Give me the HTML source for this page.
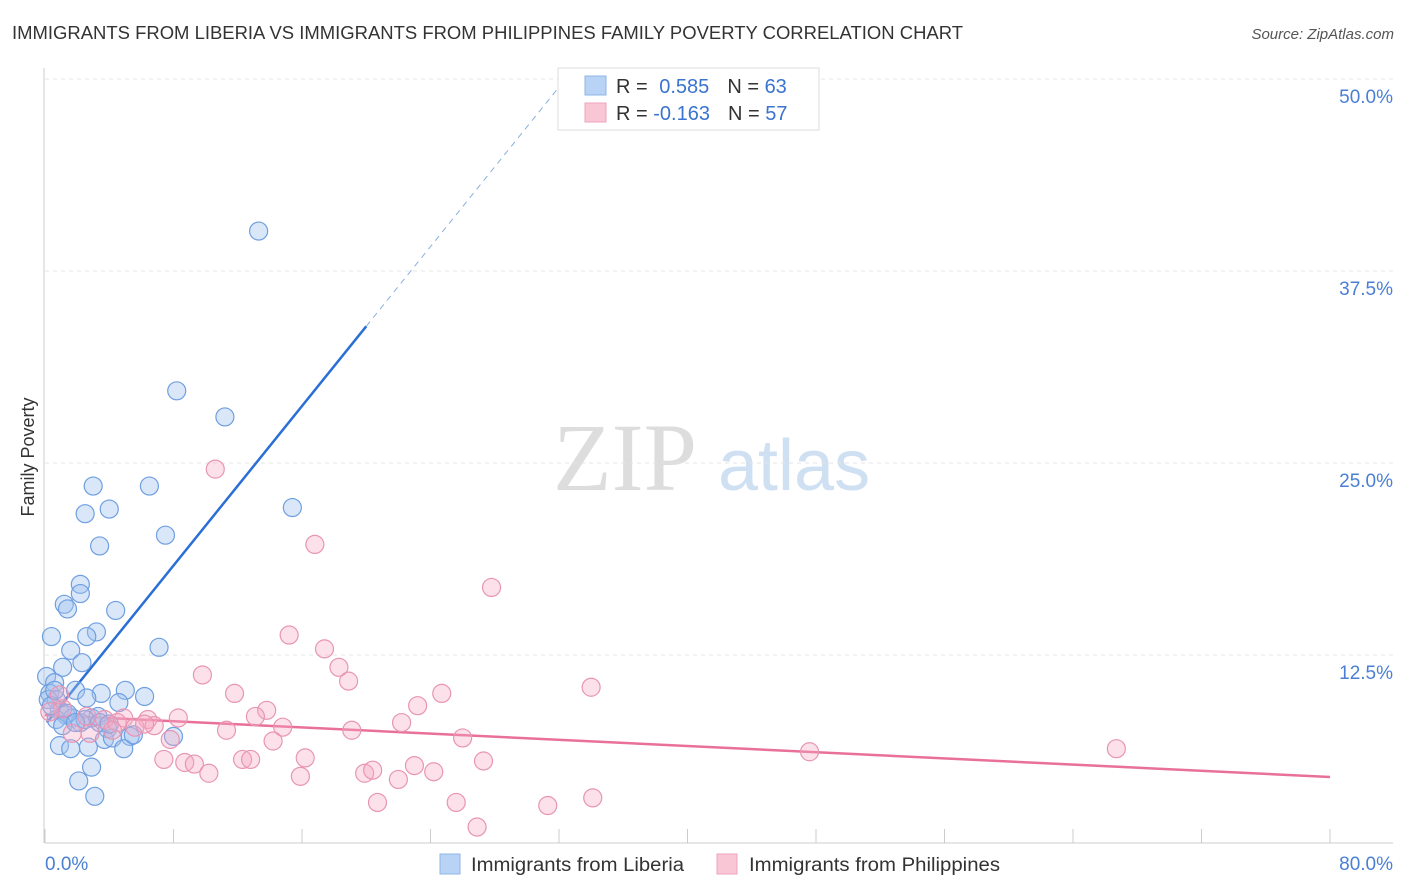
<!DOCTYPE html>
<html><head><meta charset="utf-8"><style>
body{margin:0;background:#fff;font-family:"Liberation Sans",sans-serif;}
svg{display:block}
</style></head><body>
<svg id="chart" width="1406" height="892">
<text x="12" y="39" font-size="18" fill="#333" textLength="951" lengthAdjust="spacingAndGlyphs">IMMIGRANTS FROM LIBERIA VS IMMIGRANTS FROM PHILIPPINES FAMILY POVERTY CORRELATION CHART</text>
<text x="1394" y="39" font-size="15" fill="#555" font-style="italic" text-anchor="end">Source: ZipAtlas.com</text>
<g>
<text x="553" y="490" font-size="96" fill="#ddd" font-family="Liberation Serif,serif">ZIP</text>
<text x="718" y="490" font-size="72" fill="#cfe0f3">atlas</text>
</g>
<g id="grid"></g>
<line x1="44" y1="68" x2="44" y2="843" stroke="#ccc"/>
<line x1="45" y1="843" x2="1393" y2="843" stroke="#ccc"/>
<text transform="translate(34,457) rotate(-90)" font-size="18" fill="#333" text-anchor="middle">Family Poverty</text>
<text x="45" y="870" font-size="19" fill="#4a7fd4">0.0%</text>
<text x="1393" y="870" font-size="19" fill="#4a7fd4" text-anchor="end">80.0%</text>
<g id="lines"></g>
<g id="points"></g>
<g>
<rect x="558" y="68" width="261" height="62" fill="#fff" stroke="#ddd"/>
<rect x="585" y="76" width="21" height="19" fill="#b8d3f5" stroke="#8fb5e8"/>
<rect x="585" y="103" width="21" height="19" fill="#f9c6d5" stroke="#eea4bd"/>
<text x="616" y="93" font-size="20" fill="#333">R = <tspan fill="#3a74d0" dx="6">0.585</tspan><tspan dx="18">N = </tspan><tspan fill="#3a74d0">63</tspan></text>
<text x="616" y="120" font-size="20" fill="#333">R = <tspan fill="#3a74d0">-0.163</tspan><tspan dx="18">N = </tspan><tspan fill="#3a74d0">57</tspan></text>
</g>
<g>
<rect x="440" y="854" width="20" height="20" fill="#b8d3f5" stroke="#8fb5e8"/>
<text x="471" y="871" font-size="19" fill="#333" textLength="213" lengthAdjust="spacingAndGlyphs">Immigrants from Liberia</text>
<rect x="717" y="854" width="20" height="20" fill="#f9c6d5" stroke="#eea4bd"/>
<text x="749" y="871" font-size="19" fill="#333" textLength="251" lengthAdjust="spacingAndGlyphs">Immigrants from Philippines</text>
</g>
</svg>
<script>
const yTicks=[12.5,25,37.5,50];
const yTickLabels=["12.5%","25.0%","37.5%","50.0%"];
const xTicks=[0,8,16,24,32,40,48,56,64,72,80];
const liberiaX=[13.3,8.2,11.2,3.0,6.5,2.5,4.0,15.4,7.5,3.4,2.2,2.2,1.2,1.4,4.4,0.4,3.2,2.6,1.6,7.1,2.3,1.1,0.1,0.6,0.3,1.9,5.0,6.2,3.5,2.6,4.6,0.7,0.9,1.3,1.7,2.9,3.3,2.2,3.9,0.7,8.0,5.3,3.7,4.2,0.9,2.7,1.6,4.9,2.9,2.1,3.1,0.2,0.4,1.4,2.5,3.4,5.5,1.1,1.9,0.6,4.0];
const liberiaY=[40.1,29.7,28.0,23.5,23.5,21.7,22.0,22.1,20.3,19.6,17.1,16.5,15.8,15.5,15.4,13.7,14.0,13.7,12.8,13.0,12.0,11.7,11.1,10.7,10.0,10.2,10.2,9.8,10.0,9.7,9.4,9.6,8.9,8.6,8.4,8.4,8.5,8.1,7.7,8.3,7.2,7.2,7.0,7.1,6.6,6.5,6.4,6.4,5.2,4.3,3.3,9.6,9.2,8.7,8.3,8.1,7.3,7.9,8.1,10.2,8.0];
const philX=[10.6,16.8,27.8,15.2,17.4,18.3,18.9,9.8,11.8,24.7,34.0,13.8,23.2,22.2,19.1,26.0,14.8,13.1,8.3,6.4,4.9,3.7,5.6,6.8,2.6,1.1,1.7,11.3,14.2,16.2,7.4,8.7,9.3,12.3,12.8,10.2,15.9,19.9,20.4,23.0,24.2,27.3,22.0,20.7,25.6,31.3,34.1,26.9,47.6,66.7,7.8,4.5,0.9,2.8,0.3,4.2,6.2];
const philY=[24.6,19.7,16.9,13.8,12.9,11.7,10.8,11.2,10.0,10.0,10.4,8.9,9.2,8.1,7.6,7.1,7.8,8.5,8.4,8.3,8.4,8.3,7.8,7.9,8.5,9.0,7.4,7.6,6.9,5.8,5.7,5.5,5.4,5.7,5.7,4.8,4.6,4.8,5.0,5.3,4.9,5.6,4.4,2.9,2.9,2.7,3.2,1.3,6.2,6.4,7.0,8.1,9.9,7.4,8.8,7.6,8.0];
const liberiaTrend=[0.12,8.1,20.0,33.9];
const philTrend=[0,8.59,80,4.56];
const NS="http://www.w3.org/2000/svg";
const sx=v=>45+v/80*1285, sy=v=>847-v/50*768;
function mk(tag,attrs,parent){const e=document.createElementNS(NS,tag);for(const k in attrs)e.setAttribute(k,attrs[k]);parent.appendChild(e);return e;}
const grid=document.getElementById('grid');
yTicks.forEach((t,i)=>{
 const l=mk('line',{x1:45,x2:1393,y1:sy(t),y2:sy(t),stroke:'#e4e4e4','stroke-dasharray':'4,4'},grid);
 
 
 const tx=mk('text',{x:1393,y:sy(t)+24,'font-size':19,fill:'#4a7fd4','text-anchor':'end'},grid);
 tx.textContent=yTickLabels[i];
 
 
});
xTicks.forEach(t=>{
 const l=mk('line',{x1:sx(t),x2:sx(t),y1:829,y2:843,stroke:'#ccc'},grid);
 
 
});
const pts=document.getElementById('points');
liberiaX.forEach((x,i)=>{
 const c=mk('circle',{cx:sx(x),cy:sy(liberiaY[i]),r:9,fill:'rgba(160,196,240,0.4)',stroke:'#6f9fe0','stroke-width':1.2},pts);
 
 
});
philX.forEach((x,i)=>{
 const c=mk('circle',{cx:sx(x),cy:sy(philY[i]),r:9,fill:'rgba(245,170,195,0.35)',stroke:'#e895b3','stroke-width':1.2},pts);
 
 
});
const lines=document.getElementById('lines');
const slope=(liberiaTrend[3]-liberiaTrend[1])/(liberiaTrend[2]-liberiaTrend[0]);
const yEnd=50.6, xEnd=liberiaTrend[2]+(yEnd-liberiaTrend[3])/slope;
let l1=mk('line',{x1:sx(liberiaTrend[0]),y1:sy(liberiaTrend[1]),x2:sx(liberiaTrend[2]),y2:sy(liberiaTrend[3]),stroke:'#2a6fd6','stroke-width':2.5},lines);


let l2=mk('line',{x1:sx(liberiaTrend[2]),y1:sy(liberiaTrend[3]),x2:sx(xEnd),y2:sy(yEnd),stroke:'#8ab0e0','stroke-width':1,'stroke-dasharray':'6,5'},lines);


let l3=mk('line',{x1:sx(philTrend[0]),y1:sy(philTrend[1]),x2:sx(philTrend[2]),y2:sy(philTrend[3]),stroke:'#e8709a','stroke-width':2.5},lines);


</script>
</body></html>
